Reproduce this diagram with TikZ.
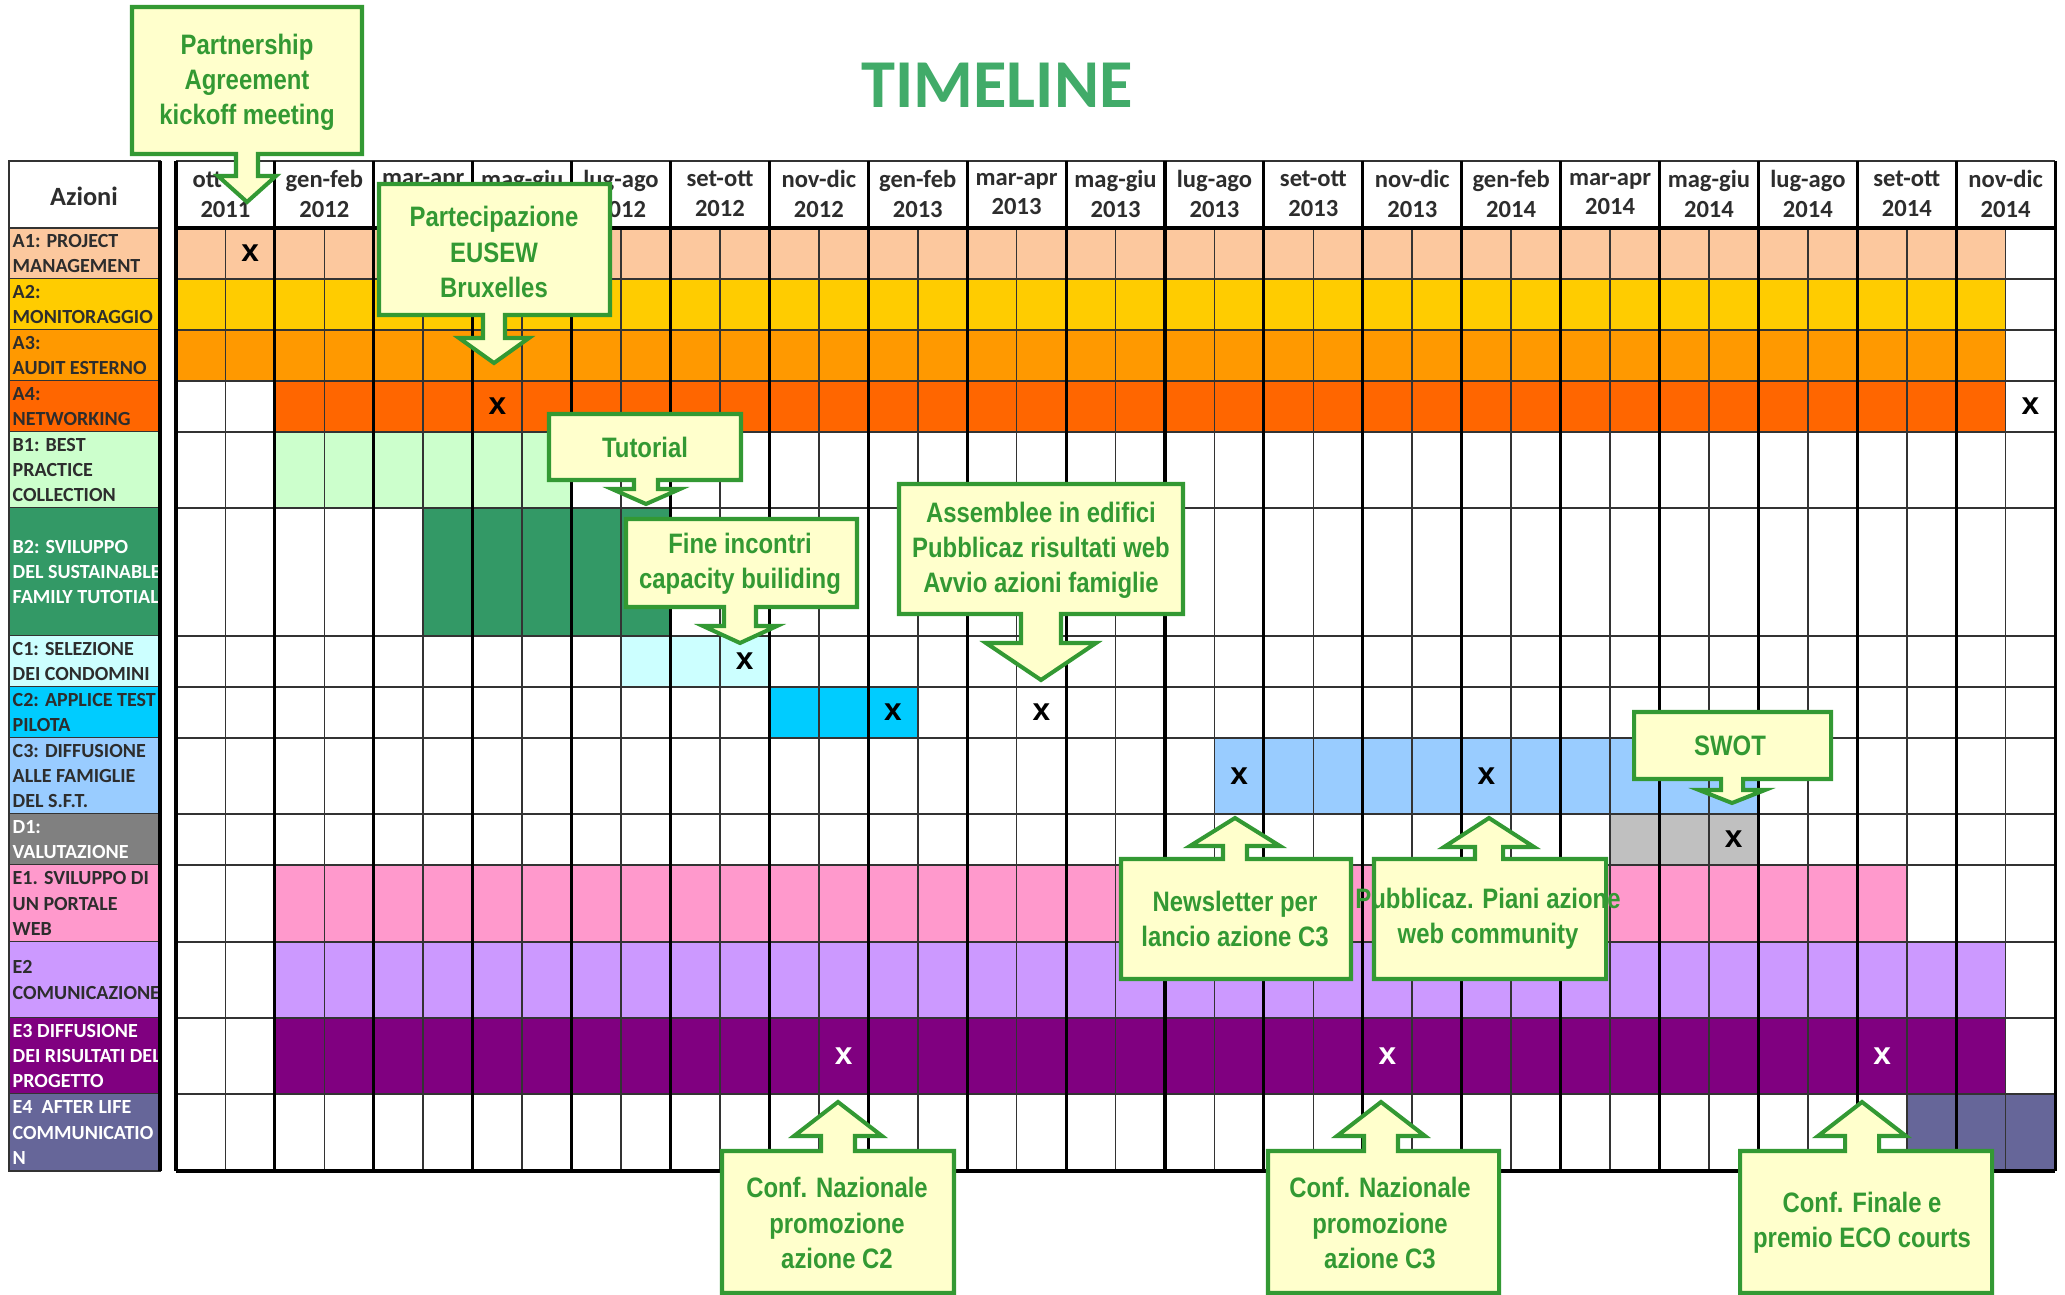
\documentclass[tikz,border=0pt]{standalone}
\usepackage{fontspec}
\setmainfont{Carlito}
\newfontfamily\callfont[FakeStretch=0.85]{Liberation Sans}
\newfontfamily\xfont{Liberation Sans}

\definecolor{peach}{RGB}{252,200,158}
\definecolor{gold}{RGB}{255,204,0}
\definecolor{amber}{RGB}{255,153,0}
\definecolor{rust}{RGB}{255,102,0}
\definecolor{mint}{RGB}{204,255,204}
\definecolor{forest}{RGB}{51,153,102}
\definecolor{ice}{RGB}{204,255,255}
\definecolor{sky}{RGB}{0,204,255}
\definecolor{cornflower}{RGB}{153,204,255}
\definecolor{silver}{RGB}{192,192,192}
\definecolor{steel}{RGB}{128,128,128}
\definecolor{rose}{RGB}{255,153,204}
\definecolor{lilac}{RGB}{204,153,255}
\definecolor{plum}{RGB}{128,0,128}
\definecolor{dusk}{RGB}{102,102,153}
\definecolor{callfill}{RGB}{255,255,204}
\definecolor{callgreen}{RGB}{51,153,51}
\definecolor{titlegreen}{RGB}{65,171,105}
\definecolor{ink}{RGB}{45,45,45}

% callout box with arrow pointing down / up
% #1,#2 top left  #3,#4 bottom right  #5,#6 tip  #7 shaft  #8 head  #9 head length
\newcommand{\downcall}[9]{%
  \filldraw[callbox] (#1,#2) -- (#3,#2) -- (#3,#4) -- ({#5+#7},#4) -- ({#5+#7},{#6-#9})
    -- ({#5+#8},{#6-#9}) -- (#5,#6) -- ({#5-#8},{#6-#9}) -- ({#5-#7},{#6-#9})
    -- ({#5-#7},#4) -- (#1,#4) -- cycle;}
\newcommand{\upcall}[9]{%
  \filldraw[callbox] (#1,#2) -- ({#5-#7},#2) -- ({#5-#7},{#6+#9}) -- ({#5-#8},{#6+#9})
    -- (#5,#6) -- ({#5+#8},{#6+#9}) -- ({#5+#7},{#6+#9}) -- ({#5+#7},#2)
    -- (#3,#2) -- (#3,#4) -- (#1,#4) -- cycle;}

\begin{document}
\begin{tikzpicture}[x=0.1mm, y=-0.1mm,
    gridthin/.style={draw=black!80, line width=0.45pt},
    gridthick/.style={draw=black, line width=0.9pt},
    callbox/.style={fill=callfill, draw=callgreen, line width=1.15pt},
    calltext/.style={align=center, text=callgreen, inner sep=0pt,
      font=\callfont\bfseries\fontsize{8}{10}\selectfont}]
  \tikzstyle{rowlab}=[anchor=west, inner sep=0pt, align=left,
      font=\bfseries\fontsize{5.7}{7.25}\selectfont]
  \tikzstyle{headlab}=[align=center, inner sep=0pt, text=ink,
      font=\bfseries\fontsize{7}{8.5}\selectfont]
  \tikzstyle{xmark}=[inner sep=0pt, font=\xfont\bfseries\fontsize{9}{9}\selectfont]

  \useasboundingbox (0,0) rectangle (2065,1295);

  \node[text=titlegreen, font=\bfseries\fontsize{19.5}{22}\selectfont] (title) at (997,85) {TIMELINE};

  % bars
  \foreach \t/\b/\c/\f/\l in {228/279/peach/0/36, 279/330/gold/0/36, 330/381/amber/0/36,
      381/432/rust/2/36, 432/508/mint/2/7, 508/636/forest/5/9, 636/687/ice/9/11,
      687/738/sky/12/14, 738/814/cornflower/21/31, 814/865/silver/29/31,
      865/942/rose/2/34, 942/1018/lilac/2/36, 1018/1094/plum/2/36, 1094/1171/dusk/35/37}
    \fill[\c] ({176+\f*49.45},\t) rectangle ({176+(\l+1)*49.45},\b);

  % row labels
  \foreach \t/\b/\lc/\tc/\txt [count=\i] in {
      228/279/peach/ink/{A1: PROJECT\\MANAGEMENT},
      279/330/gold/ink/{A2:\\MONITORAGGIO},
      330/381/amber/ink/{A3:\\AUDIT ESTERNO},
      381/432/rust/ink/{A4:\\NETWORKING},
      432/508/mint/ink/{B1: BEST\\PRACTICE\\COLLECTION},
      508/636/forest/white/{B2: SVILUPPO\\DEL SUSTAINABLE\\FAMILY TUTOTIAL},
      636/687/ice/ink/{C1: SELEZIONE\\DEI CONDOMINI},
      687/738/sky/ink/{C2: APPLICE TEST\\PILOTA},
      738/814/cornflower/ink/{C3: DIFFUSIONE\\ALLE FAMIGLIE\\DEL S.F.T.},
      814/865/steel/white/{D1:\\VALUTAZIONE},
      865/942/rose/ink/{E1. SVILUPPO DI\\UN PORTALE\\WEB},
      942/1018/lilac/ink/{E2\\COMUNICAZIONE},
      1018/1094/plum/white/{E3 DIFFUSIONE\\DEI RISULTATI DEL\\PROGETTO},
      1094/1171/dusk/white/{E4\ \ AFTER LIFE\\COMMUNICATIO\\N}}
  {
    \fill[\lc] (9,\t) rectangle (160,\b);
    \draw[gridthin] (9,\b) -- (160,\b);
    \node[rowlab, text=\tc] (lab\i) at (12,{(\t+\b)/2}) {\txt};
  }
  \draw[gridthin] (9,161) rectangle (160,1171);
  \draw[gridthin] (9,228) -- (160,228);
  \draw[gridthick] (160,161) -- (160,1171);
  \node[headlab, font=\bfseries\fontsize{7.5}{9}\selectfont] (azioni) at (84,196) {Azioni};

  % grid
  \foreach \y in {279,330,381,432,508,636,687,738,814,865,942,1018,1094}
    \draw[gridthin] (176,\y) -- (2055,\y);
  \draw[gridthin] (176,161) -- (2055,161);
  \foreach \c in {1,3,...,37}
    \draw[gridthin] ({176+\c*49.45},228) -- ({176+\c*49.45},1171);
  \foreach \c in {0,2,...,38}
    \draw[gridthick] ({176+\c*49.45},161) -- ({176+\c*49.45},1171);
  \draw[gridthick] (176,228) -- (2055,228);
  \draw[gridthick] (176,1171) -- (2055,1171);

  % months
  \foreach \m/\yr [count=\i from 0] in {ott-dic/2011, gen-feb/2012, mar-apr/2012,
      mag-giu/2012, lug-ago/2012, set-ott/2012, nov-dic/2012, gen-feb/2013,
      mar-apr/2013, mag-giu/2013, lug-ago/2013, set-ott/2013, nov-dic/2013,
      gen-feb/2014, mar-apr/2014, mag-giu/2014, lug-ago/2014, set-ott/2014, nov-dic/2014}
    \node[headlab] (h\i) at ({176+(2*\i+1)*49.45},194) {\m\\\yr};

  % milestones
  \foreach \c/\y/\xc [count=\i] in {1/253.5/black, 6/406.5/black, 37/406.5/black,
      11/661.5/black, 14/712.5/black, 17/712.5/black, 21/776/black, 26/776/black,
      31/839.5/black, 13/1056/white, 24/1056/white, 34/1056/white}
    \node[xmark, text=\xc] (x\i) at ({176+(\c+0.5)*49.45},\y) {x};

  % callouts
  \downcall{132}{7}{362}{154}{247}{202}{11}{29}{26}
  \node[calltext] (partnership) at (247,82) {Partnership\\Agreement\\kickoff meeting};
  \downcall{379}{184}{610}{315}{494}{363}{11}{35}{25}
  \node[calltext] (eusew) at (494,252) {Partecipazione\\EUSEW\\Bruxelles};
  \downcall{549}{414}{741}{480}{646}{504}{12}{34}{15}
  \node[calltext] (tutorial) at (645,447) {Tutorial};
  \downcall{626}{519}{857}{607}{740}{643}{16}{37}{17}
  \node[calltext] (capacity) at (740,564) {Fine incontri\\capacity builiding};
  \downcall{899}{484}{1183}{614}{1041}{680}{20}{55}{37}
  \node[calltext] (assemblee) at (1041,550) {Assemblee in edifici\\Pubblicaz risultati web\\Avvio azioni famiglie};
  \downcall{1634}{712}{1831}{779}{1732}{803}{11}{33}{13}
  \node[calltext] (swot) at (1730,746) {SWOT};
  \upcall{1121}{859}{1351}{979}{1235}{818}{12}{45}{28}
  \node[calltext] (newsletter) at (1235,919) {Newsletter per\\lancio azione C3};
  \upcall{1374}{859}{1606}{979}{1489}{818}{14}{45}{29}
  \node[calltext] (piani) at (1488,919) {Pubblicaz. Piani azione\\web community};
  \upcall{722}{1151}{954}{1293}{838}{1102}{17}{44}{34}
  \node[calltext] (confctwo) at (837,1223) {Conf. Nazionale\\promozione\\azione C2};
  \upcall{1268}{1151}{1499}{1293}{1381}{1102}{17}{44}{34}
  \node[calltext] (confcthree) at (1380,1223) {Conf. Nazionale\\promozione\\azione C3};
  \upcall{1740}{1151}{1992}{1293}{1862}{1102}{17}{44}{34}
  \node[calltext] (conffinale) at (1862,1223) {Conf. Finale e\\premio ECO courts};
\end{tikzpicture}
\end{document}
